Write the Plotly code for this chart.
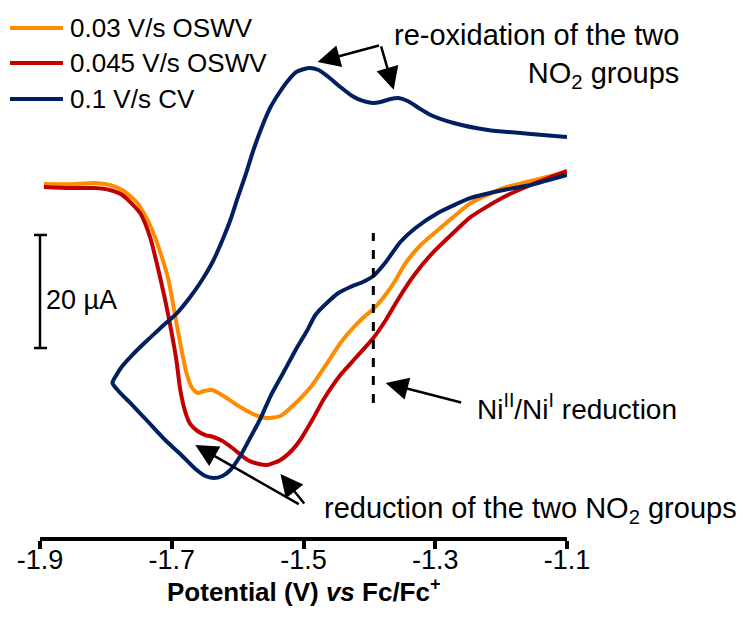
import plotly.graph_objects as go

# ---------------- data (Potential in V vs Fc/Fc+, current in µA) ----------------
v_osw03 = [-1.894, -1.854, -1.816, -1.794, -1.775, -1.752, -1.733, -1.717, -1.705, -1.695,
           -1.686, -1.678, -1.670, -1.661, -1.651, -1.638, -1.619, -1.596, -1.573, -1.555,
           -1.535, -1.515, -1.489, -1.463, -1.444, -1.425, -1.410, -1.394, -1.378, -1.363,
           -1.345, -1.322, -1.296, -1.269, -1.246, -1.196, -1.155, -1.100]
i_osw03 = [29.03, 29.0, 29.2, 28.85, 27.96, 25.66, 21.77, 16.81, 12.04, 5.84,
           0.18, -4.25, -6.90, -7.96, -7.61, -7.43, -8.67, -10.44, -11.86, -12.39,
           -12.04, -10.09, -6.90, -2.48, 0.88, 3.54, 5.31, 6.90, 9.03, 11.50,
           15.04, 18.23, 20.88, 23.54, 25.66, 28.32, 29.56, 31.15]

v_osw045 = [-1.894, -1.854, -1.816, -1.794, -1.775, -1.748, -1.733, -1.721, -1.710, -1.701,
            -1.693, -1.687, -1.679, -1.672, -1.661, -1.649, -1.637, -1.623, -1.608, -1.585,
            -1.568, -1.555, -1.535, -1.517, -1.505, -1.485, -1.470, -1.444, -1.421, -1.394,
            -1.375, -1.357, -1.333, -1.307, -1.276, -1.246, -1.196, -1.155, -1.100]
i_osw045 = [28.50, 28.32, 28.32, 27.96, 27.08, 23.89, 19.65, 14.16, 8.50, 3.19,
            -2.12, -7.43, -11.50, -13.45, -14.69, -15.40, -15.75, -16.46, -17.70, -19.82,
            -20.53, -20.71, -19.82, -18.05, -16.28, -12.39, -9.20, -4.78, -1.77, 1.77,
            4.96, 8.50, 12.74, 16.46, 20.0, 23.19, 26.73, 28.85, 31.33]

v_cv = [-1.100, -1.155, -1.196, -1.246, -1.296, -1.330, -1.353, -1.375, -1.394, -1.410,
        -1.429, -1.447, -1.463, -1.482, -1.494, -1.512, -1.530, -1.550, -1.565, -1.581,
        -1.596, -1.611, -1.623, -1.637, -1.649, -1.664, -1.687, -1.710, -1.737, -1.763,
        -1.781, -1.790, -1.784, -1.775, -1.760, -1.743, -1.717, -1.692, -1.672, -1.654,
        -1.638, -1.623, -1.611, -1.600, -1.588, -1.576, -1.562, -1.550, -1.536, -1.524,
        -1.511, -1.492, -1.477, -1.462, -1.444, -1.426, -1.410, -1.395, -1.383, -1.368,
        -1.356, -1.342, -1.325, -1.307, -1.272, -1.220, -1.155, -1.100]
i_cv = [30.62, 28.85, 27.96, 26.55, 23.89, 21.24, 18.76, 15.22, 12.74, 11.68,
        10.80, 9.73, 8.14, 5.84, 3.19, -0.35, -4.25, -8.50, -12.39, -15.93,
        -19.12, -21.59, -22.65, -23.01, -22.65, -21.42, -18.76, -16.28, -12.92, -9.73,
        -7.61, -6.19, -4.78, -3.19, -1.24, 0.71, 3.54, 6.19, 9.03, 12.04,
        15.22, 19.12, 22.65, 26.55, 30.62, 35.04, 39.47, 42.65, 45.31, 47.26,
        48.85, 49.56, 49.20, 47.96, 46.19, 44.60, 43.72, 43.36, 43.54, 44.07,
        44.25, 43.72, 42.48, 41.24, 39.82, 38.58, 37.88, 37.35]

series_names = ["0.03 V/s OSWV", "0.045 V/s OSWV", "0.1 V/s CV"]
series_colors = ["#FF8C00", "#C00000", "#002060"]
tick_vals = [-1.9, -1.7, -1.5, -1.3, -1.1]
tick_text = ["-1.9", "-1.7", "-1.5", "-1.3", "-1.1"]
x_title = "<b>Potential (V) <i>vs</i> Fc/Fc<sup>+</sup></b>"
ni_potential = -1.394
ni_span = [-9.73, 20.35]
scale_bar = [0, 20]

FONT = "Liberation Sans, Arial, sans-serif"

fig = go.Figure()
for xs, ys, nm, col in zip([v_osw03, v_osw045, v_cv], [i_osw03, i_osw045, i_cv],
                           series_names, series_colors):
    fig.add_trace(go.Scatter(x=xs, y=ys, name=nm, mode="lines",
                             line=dict(color=col, width=4, shape="spline", smoothing=0.6),
                             showlegend=False))

# legend drawn manually
leg_y = [0.9479, 0.8827, 0.8156]
for nm, col, yy in zip(series_names, series_colors, leg_y):
    fig.add_shape(type="line", xref="paper", yref="paper", x0=-0.0569, x1=0.0436,
                  y0=yy, y1=yy, line=dict(color=col, width=4))
    fig.add_annotation(xref="paper", yref="paper", x=0.0531, y=yy, text=nm,
                       showarrow=False, xanchor="left", yanchor="middle",
                       font=dict(family=FONT, size=26, color="black"))

# Ni(II)/Ni(I) dashed marker
fig.add_shape(type="line", x0=ni_potential, x1=ni_potential, y0=ni_span[0], y1=ni_span[1],
              line=dict(color="black", width=3, dash="dash"))

# scale bar
fig.add_shape(type="line", xref="paper", x0=0, x1=0, y0=scale_bar[0], y1=scale_bar[1],
              line=dict(color="black", width=2.5))
for yy in scale_bar:
    fig.add_shape(type="line", xref="paper", x0=-0.0114, x1=0.0133, y0=yy, y1=yy,
                  line=dict(color="black", width=2.5))
fig.add_annotation(xref="paper", x=0.0076, y=8.5, text="20 µA", showarrow=False,
                   xanchor="left", yanchor="middle", font=dict(family=FONT, size=27, color="black"))

arrow_kw = dict(showarrow=True, arrowhead=2, arrowsize=1.8, arrowwidth=2.5,
                arrowcolor="black", text="")
# re-oxidation arrows
fig.add_annotation(x=-1.4787, y=50.6, ax=63, ay=-17, **arrow_kw)
fig.add_annotation(x=-1.3631, y=45.7, ax=-13, ay=-45, **arrow_kw)
# Ni arrow
fig.add_annotation(x=-1.3753, y=-6.19, ax=77, ay=20, **arrow_kw)
# reduction arrows
fig.add_annotation(x=-1.6643, y=-17.17, ax=105, ay=60, **arrow_kw)
fig.add_annotation(x=-1.535, y=-22.3, ax=25, ay=31, **arrow_kw)

fig.add_annotation(xref="paper", yref="paper", x=1.2163, y=0.8966,
                   text="re-oxidation of the two<br>NO<sub>2</sub> groups",
                   showarrow=False, xanchor="right", yanchor="middle", align="right",
                   font=dict(family=FONT, size=29, color="black"))
fig.add_annotation(xref="paper", yref="paper", x=0.8254, y=0.2421,
                   text="Ni<sup>II</sup>/Ni<sup>I</sup> reduction",
                   showarrow=False, xanchor="left", yanchor="middle",
                   font=dict(family=FONT, size=28, color="black"))
fig.add_annotation(xref="paper", yref="paper", x=0.5351, y=0.0503,
                   text="reduction of the two NO<sub>2</sub> groups",
                   showarrow=False, xanchor="left", yanchor="middle",
                   font=dict(family=FONT, size=29, color="black"))

# x-axis title placed as an annotation for exact vertical position
fig.add_annotation(xref="paper", yref="paper", x=0.5, y=-0.099, text=x_title,
                   showarrow=False, xanchor="center", yanchor="middle",
                   font=dict(family=FONT, size=26, color="black"))

fig.update_xaxes(range=[-1.9, -1.1], tickvals=tick_vals, ticktext=tick_text,
                 showline=True, linewidth=4, linecolor="black", mirror=False,
                 ticks="outside", ticklen=8, tickwidth=4, tickcolor="black",
                 ticklabelstandoff=-12,
                 showgrid=False, zeroline=False,
                 tickfont=dict(family=FONT, size=27, color="black"))
fig.update_yaxes(range=[-33.45, 61.59], visible=False)

fig.update_layout(width=743, height=617, margin=dict(l=40, r=176, t=0, b=80),
                  plot_bgcolor="white", paper_bgcolor="white", showlegend=False)

fig.write_html("out.html")
